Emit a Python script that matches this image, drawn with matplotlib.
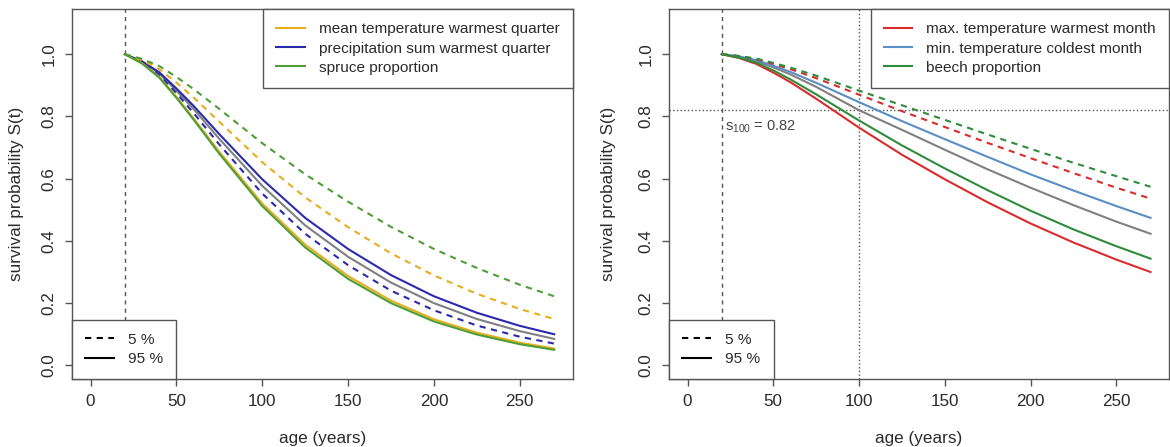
import matplotlib
matplotlib.use("Agg")
import matplotlib.pyplot as plt
from matplotlib.lines import Line2D

plt.rcParams.update({
    "font.family": "Liberation Sans",
    "font.size": 12.3,
    "mathtext.fontset": "custom",
    "mathtext.rm": "Liberation Sans",
    "mathtext.it": "Liberation Sans:italic",
    "text.color": "#2b2b2b",
    "axes.labelcolor": "#2b2b2b",
    "xtick.labelcolor": "#2b2b2b",
    "ytick.labelcolor": "#2b2b2b",
})
BOX = "#555555"
GRAY = "#808080"

AGE = [20, 30, 40, 50, 60, 75, 100, 125, 150, 175, 200, 225, 250, 270]
START_AGE = 20
S100 = 0.82

# left panel: climate (warmest quarter) and spruce share
REF_LEFT = [1.0, 0.976, 0.938, 0.883, 0.824, 0.728, 0.577, 0.450, 0.349, 0.266, 0.200, 0.149, 0.110, 0.085]
TEMPQ_05 = [1.0, 0.981, 0.952, 0.909, 0.861, 0.783, 0.653, 0.540, 0.444, 0.360, 0.289, 0.230, 0.181, 0.149]
TEMPQ_95 = [1.0, 0.971, 0.927, 0.863, 0.794, 0.686, 0.520, 0.388, 0.287, 0.208, 0.148, 0.105, 0.073, 0.054]
PREC_05 = [1.0, 0.974, 0.933, 0.875, 0.811, 0.710, 0.552, 0.423, 0.322, 0.240, 0.177, 0.128, 0.092, 0.070]
PREC_95 = [1.0, 0.977, 0.942, 0.890, 0.834, 0.743, 0.598, 0.474, 0.374, 0.290, 0.222, 0.169, 0.127, 0.100]
SPRUCE_05 = [1.0, 0.985, 0.962, 0.927, 0.888, 0.824, 0.714, 0.614, 0.526, 0.445, 0.374, 0.313, 0.259, 0.222]
SPRUCE_95 = [1.0, 0.970, 0.925, 0.860, 0.790, 0.680, 0.512, 0.379, 0.278, 0.200, 0.141, 0.099, 0.068, 0.050]

# right panel: monthly temperature extremes and beech share
REF_RIGHT = [1.0, 0.991, 0.978, 0.958, 0.935, 0.895, 0.820, 0.757, 0.693, 0.630, 0.571, 0.515, 0.462, 0.423]
TMAX_05 = [1.0, 0.994, 0.984, 0.969, 0.952, 0.923, 0.870, 0.817, 0.766, 0.715, 0.666, 0.618, 0.571, 0.536]
TMAX_95 = [1.0, 0.988, 0.969, 0.941, 0.910, 0.857, 0.764, 0.677, 0.598, 0.524, 0.456, 0.395, 0.340, 0.300]
TMIN_95 = [1.0, 0.993, 0.981, 0.963, 0.943, 0.908, 0.846, 0.785, 0.727, 0.670, 0.614, 0.562, 0.512, 0.474]
BEECH_05 = [1.0, 0.994, 0.986, 0.972, 0.957, 0.931, 0.883, 0.836, 0.789, 0.742, 0.696, 0.651, 0.608, 0.574]
BEECH_95 = [1.0, 0.989, 0.973, 0.948, 0.919, 0.871, 0.787, 0.707, 0.633, 0.563, 0.497, 0.437, 0.383, 0.343]

LEFT_LABELS = ["mean temperature warmest quarter",
               "precipitation sum warmest quarter",
               "spruce proportion"]
LEFT_COLORS = ["#E8AD1C", "#2A2AAE", "#4E9E38"]
RIGHT_LABELS = ["max. temperature warmest month",
                "min. temperature coldest month",
                "beech proportion"]
RIGHT_COLORS = ["#DA2C2C", "#5A8EC4", "#2F8C3C"]
QUANT_LABELS = ["5 %", "95 %"]

XTICKS = [0, 50, 100, 150, 200, 250]
YTICKS = [0.0, 0.2, 0.4, 0.6, 0.8, 1.0]
DASH = (0, (3, 2.6))
LW = 1.5
LEG_FS = 11.1


def style_axes(ax):
    ax.set_xlim(-10.8, 280.8)
    ax.set_ylim(-0.044, 1.144)
    ax.set_xticks(XTICKS)
    ax.set_yticks(YTICKS)
    ax.set_yticklabels([f"{v:.1f}" for v in YTICKS], rotation=90, va="center")
    ax.tick_params(direction="out", length=5, width=1, color=BOX, pad=6)
    for sp in ax.spines.values():
        sp.set_color(BOX)
        sp.set_linewidth(1)
    ax.set_xlabel("age (years)")
    ax.set_ylabel("survival probability S(t)")
    ax.xaxis.set_label_coords(0.5, -0.14)
    ax.axvline(START_AGE, color=BOX, lw=1, ls=(0, (3, 3)), zorder=1)


def add_legends(ax, labels, colors):
    handles = [Line2D([], [], color=c, lw=LW) for c in colors]
    top = ax.legend(handles, labels, loc="upper right", borderaxespad=0,
                    fancybox=False, framealpha=1, edgecolor=BOX,
                    handlelength=1.85, handletextpad=0.9, borderpad=0.85,
                    labelspacing=0.33, fontsize=LEG_FS)
    top.get_frame().set_linewidth(1)
    ax.add_artist(top)
    qh = [Line2D([], [], color="black", lw=LW, ls=DASH),
          Line2D([], [], color="black", lw=LW)]
    bottom = ax.legend(qh, QUANT_LABELS, loc="lower left", borderaxespad=0,
                       fancybox=False, framealpha=1, edgecolor=BOX,
                       handlelength=1.9, handletextpad=0.9, borderpad=0.85,
                       labelspacing=0.33, fontsize=LEG_FS)
    bottom.get_frame().set_linewidth(1)


fig = plt.figure(figsize=(11.7, 4.47), dpi=100)
ax1 = fig.add_axes([0.0615, 0.152, 0.428, 0.827])
ax2 = fig.add_axes([0.5718, 0.152, 0.4274, 0.827])

# left panel
style_axes(ax1)
ax1.yaxis.set_label_coords(-0.096, 0.5)
ax1.plot(AGE, REF_LEFT, color=GRAY, lw=LW)
ax1.plot(AGE, PREC_05, color=LEFT_COLORS[1], lw=LW, ls=DASH)
ax1.plot(AGE, PREC_95, color=LEFT_COLORS[1], lw=LW)
ax1.plot(AGE, TEMPQ_05, color=LEFT_COLORS[0], lw=LW, ls=DASH)
ax1.plot(AGE, TEMPQ_95, color=LEFT_COLORS[0], lw=LW)
ax1.plot(AGE, SPRUCE_05, color=LEFT_COLORS[2], lw=LW, ls=DASH)
ax1.plot(AGE, SPRUCE_95, color=LEFT_COLORS[2], lw=LW)
add_legends(ax1, LEFT_LABELS, LEFT_COLORS)

# right panel
style_axes(ax2)
ax2.yaxis.set_label_coords(-0.106, 0.5)
ax2.axvline(100, color=BOX, lw=1, ls=":", zorder=1)
ax2.axhline(S100, color=BOX, lw=1, ls=":", zorder=1)
ax2.text(22, S100 - 0.052, r"s$_{100}$ = " + f"{S100:.2f}", fontsize=10.5,
         color="#444444", ha="left", va="center")
ax2.plot(AGE, REF_RIGHT, color=GRAY, lw=LW)
ax2.plot(AGE, TMIN_95, color=RIGHT_COLORS[1], lw=LW)
ax2.plot(AGE, TMAX_05, color=RIGHT_COLORS[0], lw=LW, ls=DASH)
ax2.plot(AGE, TMAX_95, color=RIGHT_COLORS[0], lw=LW)
ax2.plot(AGE, BEECH_05, color=RIGHT_COLORS[2], lw=LW, ls=DASH)
ax2.plot(AGE, BEECH_95, color=RIGHT_COLORS[2], lw=LW)
add_legends(ax2, RIGHT_LABELS, RIGHT_COLORS)

fig.savefig("out.png", dpi=100)
